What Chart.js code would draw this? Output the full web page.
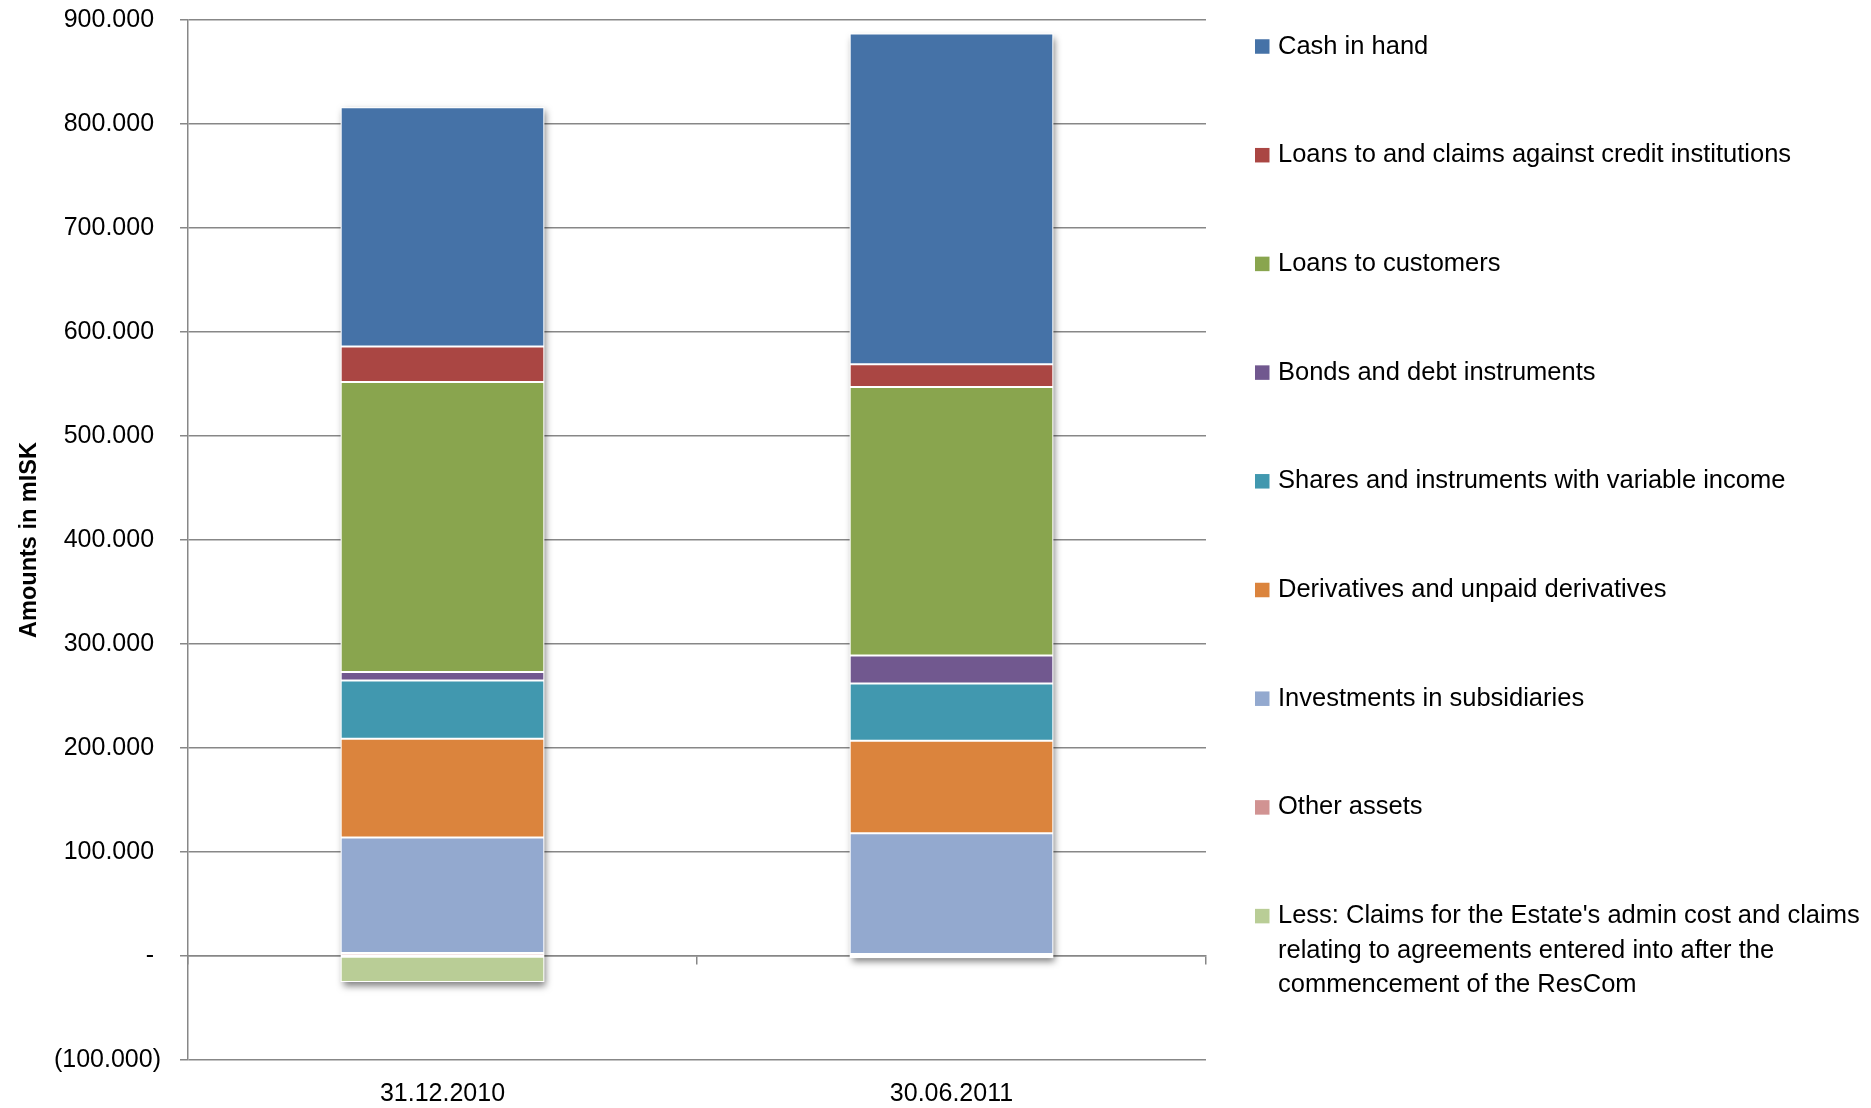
<!DOCTYPE html>
<html>
<head>
<meta charset="utf-8">
<script src="https://cdn.jsdelivr.net/npm/chart.js@4/dist/chart.umd.min.js"></script>
<style>
  html, body { margin: 0; padding: 0; background: #ffffff; }
  #wrap { width: 1871px; height: 1108px; position: relative; }
</style>
</head>
<body>
<div id="wrap"><canvas id="c"></canvas></div>
<script>
// ---------------- DATA ----------------
const categories = ['31.12.2010', '30.06.2011'];

// Series (stack order bottom -> top), values in mISK
const lessClaims              = [-25000, -2000];
const otherAssets             = [3000, 2000];
const investmentsSubsidiaries = [111000, 116000];
const derivatives             = [95000, 89000];
const sharesVariableIncome    = [56000, 55000];
const bondsDebtInstruments    = [8000, 27000];
const loansToCustomers        = [279000, 258000];
const loansCreditInst         = [34000, 22000];
const cashInHand              = [230000, 318000];

const seriesNames = [
  "Less: Claims for the Estate's admin cost and claims relating to agreements entered into after the commencement of the ResCom",
  'Other assets',
  'Investments in subsidiaries',
  'Derivatives and unpaid derivatives',
  'Shares and instruments with variable income',
  'Bonds and debt instruments',
  'Loans to customers',
  'Loans to and claims against credit institutions',
  'Cash in hand'
];
const seriesValues = [lessClaims, otherAssets, investmentsSubsidiaries, derivatives,
  sharesVariableIncome, bondsDebtInstruments, loansToCustomers, loansCreditInst, cashInHand];

const yMin = -100000;
const yMax = 900000;
const yStep = 100000;
const yAxisTitle = 'Amounts in mISK';

// ---------------- STYLE ----------------
const seriesColors = ['#B9CD96', '#D19392', '#93A9CF', '#DB843D', '#4198AF',
  '#71588F', '#89A54E', '#AA4643', '#4572A7'];
const FONT = '"Liberation Sans", Arial, sans-serif';
const GRID = '#878787';

function fmtThousands(v) {
  return String(Math.round(v)).replace(/\B(?=(\d{3})+(?!\d))/g, '.');
}

function wrapText(ctx, text, maxW) {
  const words = text.split(' ');
  const lines = [];
  let cur = '';
  words.forEach(w => {
    const test = cur ? cur + ' ' + w : w;
    if (ctx.measureText(test).width > maxW && cur) { lines.push(cur); cur = w; }
    else cur = test;
  });
  if (cur) lines.push(cur);
  return lines;
}

const shadowPlugin = {
  id: 'barShadow',
  beforeDatasetsDraw(chart) {
    const ctx = chart.ctx;
    const n = chart.data.labels.length;
    for (let i = 0; i < n; i++) {
      let top = Infinity, bottom = -Infinity, left = 0, width = 0;
      chart.data.datasets.forEach((d, k) => {
        const el = chart.getDatasetMeta(k).data[i];
        if (!el) return;
        const p = el.getProps(['x', 'y', 'base', 'width'], true);
        top = Math.min(top, p.y, p.base);
        bottom = Math.max(bottom, p.y, p.base);
        left = p.x - p.width / 2;
        width = p.width;
      });
      ctx.save();
      ctx.shadowColor = 'rgba(0,0,0,0.5)';
      ctx.shadowBlur = 7;
      ctx.shadowOffsetX = 2;
      ctx.shadowOffsetY = 4;
      ctx.fillStyle = '#ffffff';
      ctx.fillRect(left, top, width, bottom - top);
      ctx.restore();
    }
  }
};

const legendPlugin = {
  id: 'sideLegend',
  afterDraw(chart) {
    const ctx = chart.ctx;
    const ds = chart.data.datasets.slice().reverse();
    ctx.save();
    ctx.font = '25.5px ' + FONT;
    ctx.textBaseline = 'middle';
    ctx.textAlign = 'left';
    const boxX = 1255, textX = 1278, startY = 46.5, step = 108.7, lineH = 34.6, box = 14.5, maxW = 590;
    ds.forEach((d, i) => {
      const y = startY + i * step;
      ctx.fillStyle = d.backgroundColor;
      ctx.fillRect(boxX, y - box / 2, box, box);
      ctx.fillStyle = '#000000';
      wrapText(ctx, d.label, maxW).forEach((line, j) => ctx.fillText(line, textX, y + j * lineH));
    });
    ctx.restore();
  }
};

const datasets = seriesNames.map((name, i) => ({
  label: name,
  data: seriesValues[i],
  backgroundColor: seriesColors[i],
  borderColor: '#ffffff',
  borderWidth: 1,
  borderSkipped: false,
  barPercentage: 0.4,
  categoryPercentage: 1.0
}));

new Chart(document.getElementById('c'), {
  type: 'bar',
  data: { labels: categories, datasets },
  plugins: [shadowPlugin, legendPlugin],
  options: {
    responsive: true,
    maintainAspectRatio: false,
    animation: false,
    layout: { padding: { top: 20, right: 665, bottom: 0, left: 0 } },
    plugins: { legend: { display: false }, tooltip: { enabled: false } },
    scales: {
      x: {
        stacked: true,
        offset: true,
        grid: { display: false, drawTicks: false },
        border: { display: false },
        ticks: { color: '#000000', font: { family: FONT, size: 25 }, padding: 19, maxRotation: 0 },
        afterFit(s) { s.height = 48; }
      },
      x2: {
        axis: 'x',
        type: 'category',
        position: { y: 0 },
        offset: true,
        grid: { display: true, offset: true, drawOnChartArea: false, drawTicks: true, tickLength: 8, color: GRID, lineWidth: 1.5 },
        border: { display: true, color: GRID, width: 1.5 },
        ticks: { display: false }
      },
      y: {
        stacked: true,
        min: yMin,
        max: yMax,
        grid: { color: GRID, lineWidth: 1.5, drawTicks: true, tickLength: 8, tickColor: GRID },
        border: { display: true, color: GRID, width: 1.5 },
        ticks: {
          stepSize: yStep,
          color: '#000000',
          font: { family: FONT, size: 25 },
          padding: 19,
          callback(v) {
            if (v === 0) return '- ';
            if (v < 0) return '(' + fmtThousands(-v) + ')';
            return fmtThousands(v) + ' ';
          }
        },
        title: {
          display: true,
          text: yAxisTitle,
          color: '#000000',
          font: { family: FONT, size: 23.5, weight: 'bold' },
          padding: { top: 15, bottom: 0 }
        },
        afterFit(s) { s.width = 188; s.paddingTop = 0; s.paddingBottom = 0; }
      }
    }
  }
});
</script>
</body>
</html>
